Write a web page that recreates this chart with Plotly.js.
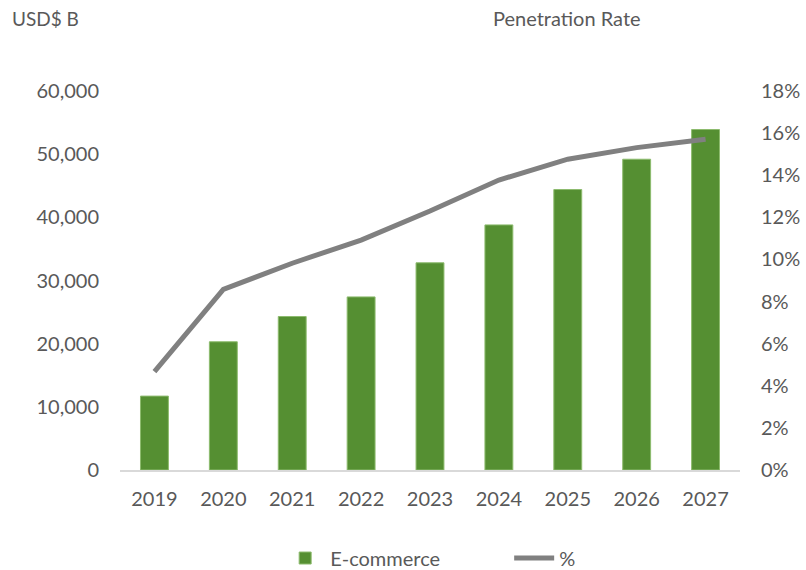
<!DOCTYPE html>
<html>
<head>
<meta charset="utf-8">
<script src="https://cdn.plot.ly/plotly-3.0.1.min.js"></script>
<style>html,body{margin:0;padding:0;background:#fff;}#chart{width:806px;height:570px;}</style>
</head>
<body>
<div id="chart"></div>
<script>
const years = ["2019","2020","2021","2022","2023","2024","2025","2026","2027"];
const ecommerce = [11700, 20300, 24300, 27400, 32800, 38800, 44400, 49200, 53900];
const penetration = [0.0467, 0.0858, 0.0982, 0.1092, 0.1230, 0.1377, 0.1476, 0.1531, 0.1571];
const leftTicks = [0, 10000, 20000, 30000, 40000, 50000, 60000];
const rightTicks = [0, 0.02, 0.04, 0.06, 0.08, 0.10, 0.12, 0.14, 0.16, 0.18];

const font = "Lato, 'Open Sans', sans-serif";
const textColor = "#595959";

const data = [
  {
    type: "bar", name: "E-commerce", x: years, y: ecommerce,
    marker: {color: "#558F32", line: {color: "#8DBB6E", width: 1}},
    hoverinfo: "x+y"
  },
  {
    type: "scatter", mode: "lines", name: "%", x: years, y: penetration, yaxis: "y2",
    line: {color: "#808080", width: 5, shape: "linear"},
    hoverinfo: "x+y"
  }
];

const layout = {
  width: 806, height: 570,
  margin: {l: 120, r: 66, t: 91, b: 100, autoexpand: false},
  paper_bgcolor: "#fff", plot_bgcolor: "#fff",
  font: {family: font, size: 20, color: textColor},
  bargap: 0.595,
  showlegend: true,
  legend: {
    orientation: "h", xref: "container", yref: "container",
    x: 0.3476, xanchor: "left", y: 0.021, yanchor: "middle",
    font: {family: font, size: 20, color: textColor},
    entrywidth: 174, itemwidth: 40
  },
  xaxis: {
    type: "category", showgrid: false, zeroline: false,
    showline: true, linecolor: "#D9D9D9", linewidth: 2,
    ticks: "", ticklabelstandoff: 10,
    tickfont: {family: font, size: 20, color: textColor}
  },
  yaxis: {
    range: [0, 60000], tickvals: leftTicks, tickformat: ",",
    showgrid: false, zeroline: false, showline: false, ticks: "",
    ticklabelstandoff: 20,
    tickfont: {family: font, size: 20, color: textColor}
  },
  yaxis2: {
    overlaying: "y", side: "right", range: [0, 0.18], tickvals: rightTicks, tickformat: ".0%",
    showgrid: false, zeroline: false, showline: false, ticks: "",
    ticklabelstandoff: 20,
    tickfont: {family: font, size: 20, color: textColor}
  },
  annotations: [
    {text: "USD$ B", xref: "paper", yref: "paper", x: -0.1774, y: 1.1926, xanchor: "left", yanchor: "middle",
     showarrow: false, font: {family: font, size: 19, color: textColor}},
    {text: "Penetration Rate", xref: "paper", yref: "paper", x: 0.598, y: 1.1926, xanchor: "left", yanchor: "middle",
     showarrow: false, font: {family: font, size: 20, color: textColor}}
  ]
};

Plotly.newPlot("chart", data, layout, {displayModeBar: false, staticPlot: true});
</script>
</body>
</html>
